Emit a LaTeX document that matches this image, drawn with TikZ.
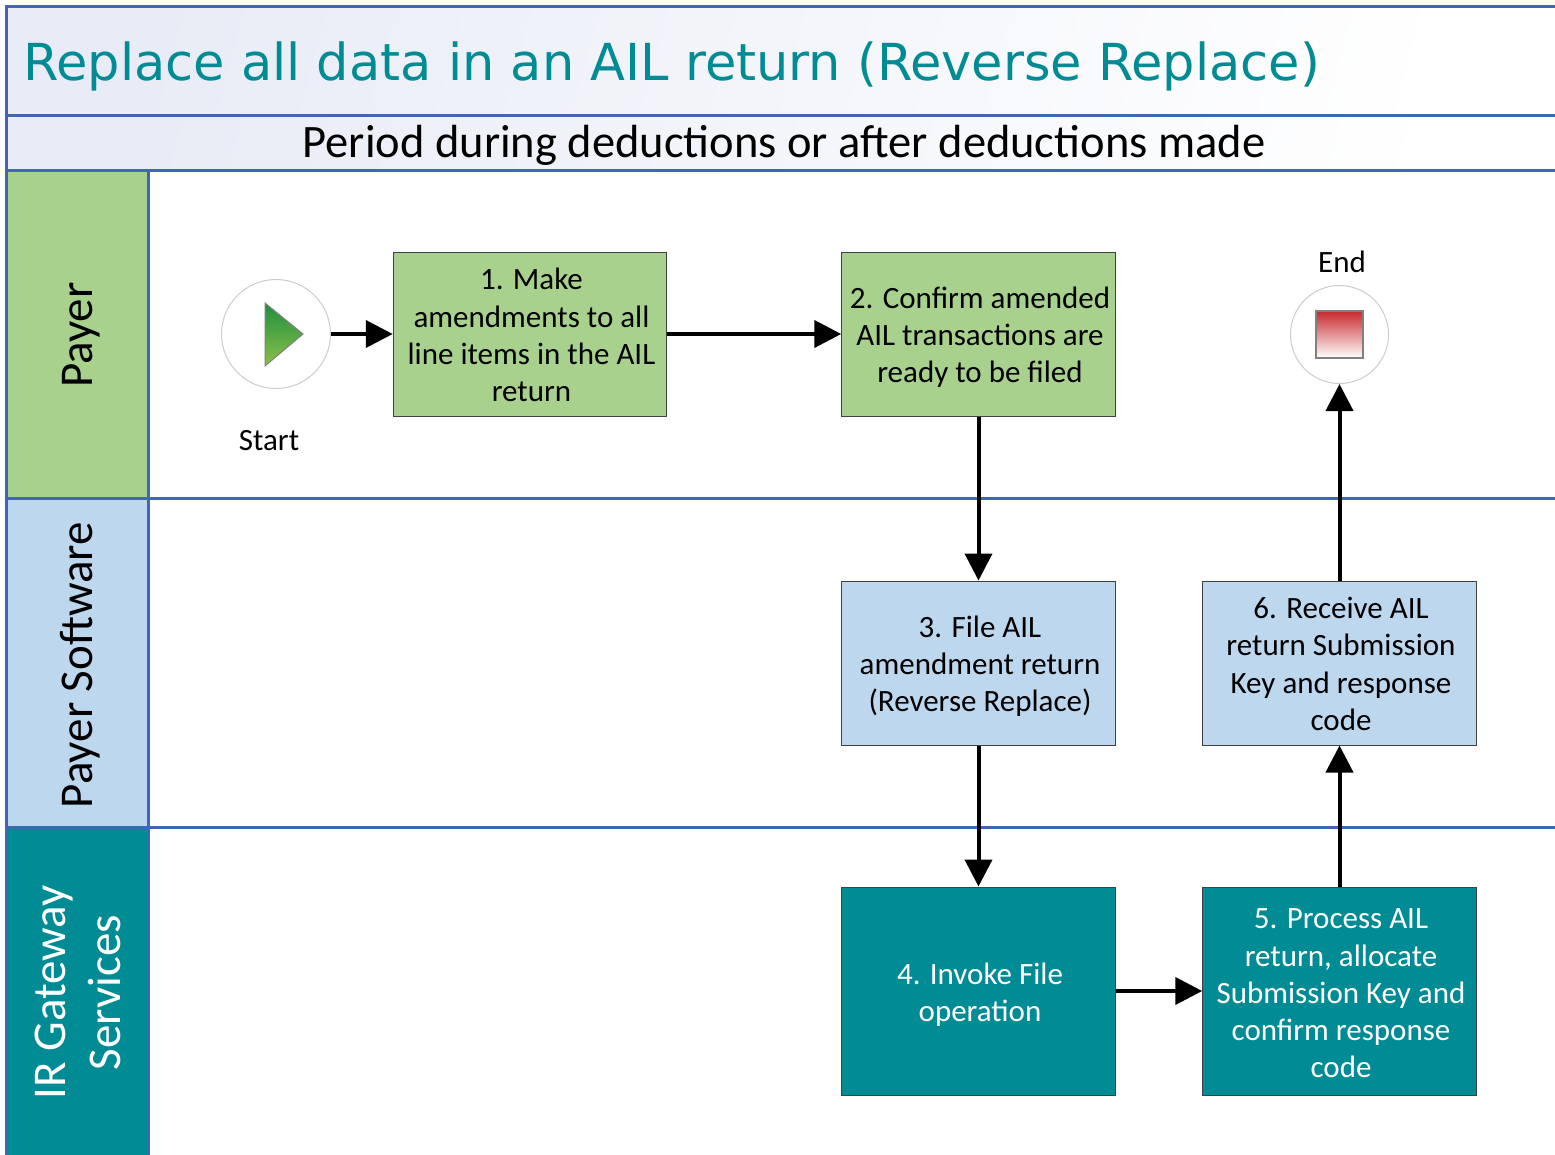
\documentclass[tikz,border=0pt]{standalone}
\usepackage{fontspec}
\usetikzlibrary{arrows.meta}
\setmainfont{Carlito}
\newfontfamily\titlefont{DejaVu Sans}
\definecolor{payergreen}{HTML}{A9D18E}
\definecolor{softblue}{HTML}{BDD7EE}
\definecolor{irteal}{HTML}{008B95}
\definecolor{laneblue}{HTML}{4267B2}
\definecolor{bandgrey}{HTML}{E9ECF6}
\definecolor{playtop}{HTML}{1F8F3F}
\definecolor{playbottom}{HTML}{8CC04A}
\definecolor{stoptop}{HTML}{C8282C}
\begin{document}
\begin{tikzpicture}[x=1pt, y=-1pt]
  \tikzstyle{band}=[draw=laneblue, line width=3pt, left color=bandgrey, right color=white, shading angle=75, minimum height=0pt, inner sep=0pt]
  \tikzstyle{lane}=[draw=laneblue, line width=3pt, minimum width=142pt, inner sep=0pt]
  \tikzstyle{lanelabel}=[font=\fontsize{47}{55}\selectfont, rotate=90, align=center]
  \tikzstyle{stepbox}=[draw=black!75, line width=1pt, minimum width=273.5pt, inner sep=0pt]
  \tikzstyle{steptext}=[inner sep=0pt, align=center, xshift=1.5pt, font=\fontsize{31}{37.2}\selectfont]
  \tikzstyle{arrow}=[line width=4pt, -{Triangle[length=27pt, width=27pt]}]
  \useasboundingbox (0, 0) rectangle (1555, 1154);

  \node[band, minimum width=1570pt, minimum height=109pt] (title) at (791.5, 60.5) {};
  \node[anchor=west, text=irteal, inner sep=0pt, font=\titlefont\fontsize{51}{60}\selectfont] (titletext) at (23, 66) {Replace all data in an AIL return (Reverse Replace)};
  \node[band, minimum width=1570pt, minimum height=55pt] (period) at (791.5, 142.5) {};
  \node[font=\fontsize{46.5}{52}\selectfont, inner sep=0pt] (periodtext) at (784, 145) {Period during deductions or after deductions made};

  \draw[laneblue, line width=3pt] (149, 498) -- (1570, 498);
  \draw[laneblue, line width=3pt] (149, 827) -- (1570, 827);
  \node[lane, fill=payergreen, minimum height=328pt] (payer) at (77.5, 334) {};
  \node[lane, fill=softblue, minimum height=329pt] (software) at (77.5, 662.5) {};
  \node[lane, fill=irteal, minimum height=340pt] (gateway) at (77.5, 997) {};
  \node[lanelabel] (l1) at (81, 335) {Payer};
  \node[lanelabel] (l2) at (80, 665) {Payer Software};
  \node[lanelabel, text=white] (l3) at (77.5, 992.5) {IR Gateway\\Services};

  \node[draw=black!20, circle, line width=1pt, minimum size=109pt, inner sep=0pt, fill=white] (start) at (276, 334) {};
  \shadedraw[draw=black!50, line width=1pt, top color=playtop, bottom color=playbottom] (265, 303) -- (303, 334) -- (265, 366) -- cycle;
  \node[font=\fontsize{31}{37}\selectfont] (lstart) at (269, 441) {Start};

  \node[draw=black!20, circle, line width=1pt, minimum size=98pt, inner sep=0pt, fill=white] (finish) at (1339.5, 334.5) {};
  \shadedraw[draw=black!50, line width=1.5pt, top color=stoptop, bottom color=white] (1316, 311) rectangle (1363, 358);
  \node[font=\fontsize{31}{37}\selectfont] (lfinish) at (1342, 262) {End};

  \node[stepbox, fill=payergreen, minimum height=164pt] (s1) at (530, 334) {};
  \node[steptext] (t1) at (530, 335) {1. Make\\amendments to all\\line items in the AIL\\return};

  \node[stepbox, fill=payergreen, minimum height=164pt] (s2) at (978.5, 334) {};
  \node[steptext] (t2) at (978.5, 337) {2. Confirm amended\\AIL transactions are\\ready to be filed};

  \node[stepbox, fill=softblue, minimum height=164pt] (s3) at (978.5, 663) {};
  \node[steptext] (t3) at (978.5, 666) {3. File AIL\\amendment return\\(Reverse Replace)};

  \node[stepbox, fill=softblue, minimum height=164pt] (s6) at (1339.5, 663) {};
  \node[steptext] (t6) at (1339.5, 664) {6. Receive AIL\\return Submission\\Key and response\\code};

  \node[stepbox, fill=irteal, minimum height=208pt] (s4) at (978.5, 991) {};
  \node[steptext, text=white] (t4) at (978.5, 994.5) {4. Invoke File\\operation};

  \node[stepbox, fill=irteal, minimum height=208pt] (s5) at (1339.5, 991) {};
  \node[steptext, text=white] (t5) at (1339.5, 993.5) {5. Process AIL\\return, allocate\\Submission Key and\\confirm response\\code};

  \draw[arrow] (start) -- (s1);
  \draw[arrow] (s1) -- (s2);
  \draw[arrow] (s2) -- (s3);
  \draw[arrow] (s3) -- (s4);
  \draw[arrow] (s4) -- (s5);
  \draw[arrow] (s5) -- (s6);
  \draw[arrow] (s6) -- (finish);
\end{tikzpicture}
\end{document}
